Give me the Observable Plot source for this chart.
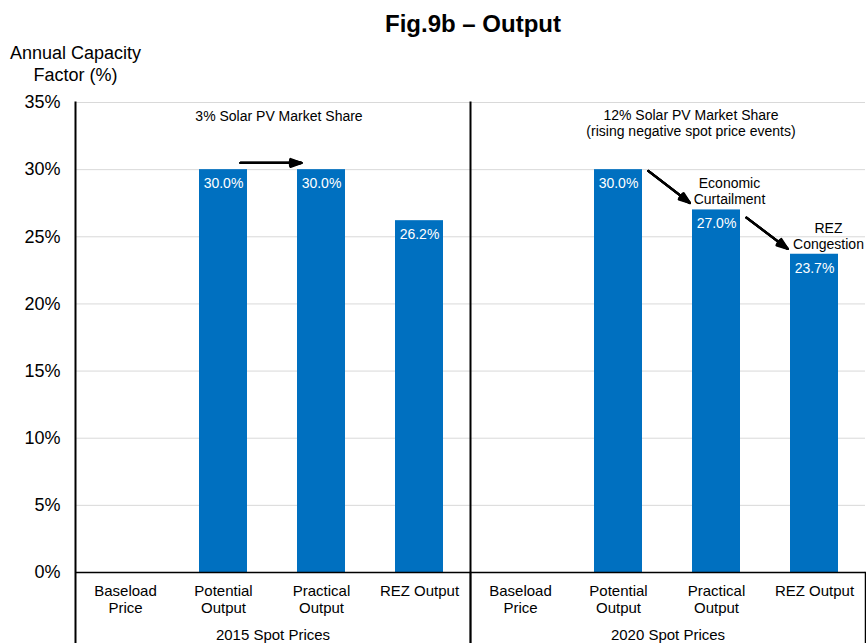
<!DOCTYPE html>
<html>
<head>
<meta charset="utf-8">
<script src="https://cdn.jsdelivr.net/npm/d3@7"></script>
<script src="https://cdn.jsdelivr.net/npm/@observablehq/plot@0.6"></script>
<style>
  html, body { margin: 0; padding: 0; background: #fff; }
  body { width: 866px; height: 643px; overflow: hidden; font-family: Arial, "Liberation Sans", sans-serif; }
  #title { box-sizing: border-box; height: 40px; padding-top: 10px; font-size: 24px; line-height: 28px; font-weight: bold; text-align: center; width: 946px; color: #000; }
  #chart svg { display: block; }
</style>
</head>
<body>
<div id="title">Fig.9b – Output</div>
<div id="chart"></div>
<script>
// ---- data ----
const groups = ["2015 Spot Prices", "2020 Spot Prices"];
const categories = ["Baseload Price", "Potential Output", "Practical Output", "REZ Output"];
const categoryLabels = ["Baseload\nPrice", "Potential\nOutput", "Practical\nOutput", "REZ Output"];
const values2015 = [null, 30.0, 30.0, 26.2];
const values2020 = [null, 30.0, 27.0, 23.7];
const yTicks = [0, 5, 10, 15, 20, 25, 30, 35];
const yAxisTitle = "Annual Capacity\nFactor (%)";
const groupNotes = ["3% Solar PV Market Share", "12% Solar PV Market Share\n(rising negative spot price events)"];
const stepNotes = [
  {group: groups[1], category: categories[2], value: 27.0, text: "Economic\nCurtailment"},
  {group: groups[1], category: categories[3], value: 23.7, text: "REZ\nCongestion"}
];
const arrows2015 = [{group: groups[0], from: categories[1], to: categories[2], y1: 30.5, y2: 30.5}];
const arrows2020 = [
  {group: groups[1], from: categories[1], to: categories[2], y1: 31.6, y2: 26.0},
  {group: groups[1], from: categories[2], to: categories[3], y1: 28.1, y2: 22.6}
];

// ---- table ----
const rows = [];
[values2015, values2020].forEach((vals, gi) => {
  vals.forEach((v, ci) => rows.push({group: groups[gi], category: categories[ci], value: v}));
});
const barRows = rows.filter(d => d.value != null);
const labelOf = new Map(categories.map((c, i) => [c, categoryLabels[i]]));

const blue = "#0070C0";
const font = "Arial, 'Liberation Sans', sans-serif";

// arrows with solid-looking heads: several head angles layered
const headAngles = [40, 30, 20, 10];
const arrowMarks = headAngles.flatMap(a => [
  Plot.arrow(arrows2015, {fx: "group", x1: "from", x2: "to", y1: "y1", y2: "y2", stroke: "#000", strokeWidth: 2.2, headLength: 8, headAngle: a, insetStart: 17, insetEnd: 20}),
  Plot.arrow(arrows2020, {fx: "group", x1: "from", x2: "to", y1: "y1", y2: "y2", stroke: "#000", strokeWidth: 2.2, headLength: 8, headAngle: a, insetStart: 37.5, insetEnd: 33.5})
]);

const chart = Plot.plot({
  width: 866,
  height: 603,
  marginTop: 62,
  marginBottom: 71,
  marginLeft: 75,
  marginRight: 1,
  style: {fontFamily: font, color: "#000", background: "#fff", overflow: "visible"},
  fx: {domain: groups, padding: 0, axis: null},
  x: {domain: categories, paddingInner: 0.51, paddingOuter: 0.255, axis: null},
  y: {domain: [0, 35], axis: null},
  marks: [
    Plot.gridY(yTicks, {stroke: "#d9d9d9", strokeOpacity: 1, strokeWidth: 1}),
    Plot.barY(barRows, {fx: "group", x: "category", y: "value", fill: blue}),
    Plot.text(barRows, {fx: "group", x: "category", y: "value", text: d => d.value.toFixed(1) + "%", dy: 14, fill: "white", fontSize: 14}),
    Plot.ruleY([0], {stroke: "#000", strokeWidth: 1.5}),
    Plot.frame({anchor: "left", stroke: "#000", strokeWidth: 2, insetBottom: -71}),
    Plot.frame({anchor: "right", stroke: "#000", strokeWidth: 1.5, insetTop: 470, insetBottom: -71}),
    Plot.axisY(yTicks, {tickSize: 0, tickPadding: 15, fontSize: 18, tickFormat: d => d + "%", label: null}),
    Plot.axisX({tickSize: 0, tickPadding: 11, fontSize: 15, lineHeight: 1.15, tickFormat: d => labelOf.get(d), label: null}),
    Plot.axisFx({anchor: "bottom", tickSize: 0, tickPadding: 57, fontSize: 15, label: null}),
    Plot.text([{g: groups[0], t: yAxisTitle}], {fx: "g", text: "t", frameAnchor: "top-left", lineAnchor: "middle", textAnchor: "middle", dy: -40, fontSize: 18, lineHeight: 1.22}),
    Plot.text([{g: groups[0], t: groupNotes[0]}], {fx: "g", text: "t", frameAnchor: "top", lineAnchor: "top", dx: 6, dy: 9, fontSize: 14}),
    Plot.text([{g: groups[1], t: groupNotes[1]}], {fx: "g", text: "t", frameAnchor: "top", lineAnchor: "top", dx: 23, dy: 6, fontSize: 14, lineHeight: 1.15}),
    Plot.text(stepNotes.slice(0, 1), {fx: "group", x: "category", y: "value", text: "text", lineAnchor: "bottom", dx: 13, dy: -6, fontSize: 14, lineHeight: 1.15}),
    Plot.text(stepNotes.slice(1), {fx: "group", x: "category", y: "value", text: "text", lineAnchor: "bottom", dx: 14, dy: -5, fontSize: 14, lineHeight: 1.15}),
    ...arrowMarks
  ]
});
document.getElementById("chart").appendChild(chart);
</script>
</body>
</html>
